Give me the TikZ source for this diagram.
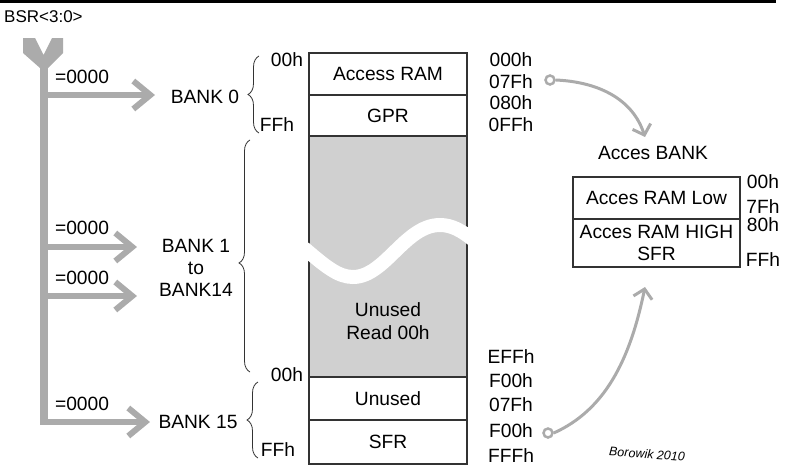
\documentclass[tikz,border=0pt]{standalone}
\usepackage{fontspec}
\setmainfont{Liberation Sans}
\usetikzlibrary{arrows.meta,decorations.pathreplacing}
\definecolor{busgray}{HTML}{ABABAB}
\definecolor{cellgray}{HTML}{D0D0D0}
\definecolor{edgegray}{HTML}{333333}
\tikzset{
  every node/.style={font=\fontsize{19.2}{22}\selectfont, inner sep=0pt},
  bus/.style={draw=busgray, line width=6pt},
  busarrow/.style={bus, -{Straight Barb[length=17pt,width=28pt]}},
  cell/.style={draw=edgegray, line width=1.2pt, minimum width=158pt, fill=white},
  acccell/.style={draw=edgegray, line width=1.2pt, minimum width=167pt, fill=white, align=center},
  ring/.style={circle, draw=busgray, line width=2.5pt, minimum size=9pt, fill=white},
  bendarrow/.style={draw=busgray, line width=3pt, -{Straight Barb[length=9pt,width=19pt]}},
  bracket/.style={draw=edgegray, line width=0.8pt, decorate},
}
\begin{document}
\begin{tikzpicture}[x=1pt,y=-1pt]
\useasboundingbox (0,0) rectangle (785,471);
\draw[line width=3pt] (0,1.5) -- (776,1.5);
\node[anchor=west, font=\fontsize{17}{20}\selectfont] (bsr) at (4,17) {BSR<3:0>};

% the BSR bus
\fill[busgray] (23,38) -- (35,38) -- (43.5,55) -- (52,38) -- (63,38) -- (63,53)
  -- (48,68) -- (40,68) -- (23,53) -- cycle;
\coordinate (bustop) at (44,62);
\coordinate (busend) at (44,425);
\draw[busgray, line width=8pt] (bustop) -- (busend);

\coordinate (tip0) at (155,95);
\coordinate (tipa) at (137,247);
\coordinate (tipb) at (137,296);
\coordinate (tip15) at (150,422);
\draw[busarrow] (bustop |- tip0) -- (tip0);
\draw[busarrow] (bustop |- tipa) -- (tipa);
\draw[busarrow] (bustop |- tipb) -- (tipb);
\draw[busarrow] (40,422) -- (tip15);
\node (eq0) at (82,77) {=0000};
\node (eqa) at (82,228) {=0000};
\node (eqb) at (82,278) {=0000};
\node (eq15) at (82,404) {=0000};

% banks
\node (bank0) at (205,97) {BANK 0};
\node[align=center] (bank1) at (196,268) {BANK 1\\to\\BANK14};
\node (bank15) at (198,422) {BANK 15};
\draw[bracket, decoration={brace, amplitude=11pt}] (259,133) -- (259,56);
\draw[bracket, decoration={brace, amplitude=11pt, aspect=0.47}] (250,372) -- (250,140);
\draw[bracket, decoration={brace, amplitude=11pt}] (258,458) -- (258,382);
\node (lo0) at (287,60) {00h};
\node (hi0) at (277,125) {FFh};
\node (lo15) at (287,375) {00h};
\node (hi15) at (278,450) {FFh};

% memory map
\node[cell, minimum height=42pt] (accram) at (388,74) {Access RAM};
\node[cell, minimum height=41pt] (gpr) at (388,115.5) {GPR};
\node[cell, fill=cellgray, minimum height=241pt] (gap) at (388,256.5) {};
\node[cell, minimum height=43pt] (unused) at (388,398.5) {Unused};
\node[cell, minimum height=44pt] (sfr) at (388,442) {SFR};
\draw[white, line width=14pt] (304,248) .. controls (325,266) and (338,277) .. (353,277)
  .. controls (385,277) and (405,225) .. (440,225)
  .. controls (452,225) and (462,231) .. (472,239);
\node[align=center, font=\fontsize{19.2}{23}\selectfont] (readzero) at (388,321) {Unused\\Read 00h};

\node (a000) at (511,60) {000h};
\node (a07f) at (511,82) {07Fh};
\node (a080) at (511,103) {080h};
\node (a0ff) at (511,125) {0FFh};
\node (aeff) at (511,357) {EFFh};
\node (af00) at (511,381) {F00h};
\node (af7f) at (511,405) {07Fh};
\node (af80) at (511,431) {F00h};
\node (afff) at (511,456) {FFFh};

% access bank
\node (accbank) at (653,153) {Acces BANK};
\node[acccell, minimum height=42pt] (acclow) at (656.5,198) {Acces RAM Low};
\node[acccell, minimum height=48pt] (acchigh) at (656.5,243) {Acces RAM HIGH\\SFR};
\node (b00) at (763,182) {00h};
\node (b7f) at (763,207) {7Fh};
\node (b80) at (763,225) {80h};
\node (bff) at (763,260) {FFh};

\node[ring] (ringlow) at (550,80) {};
\node[ring] (ringhigh) at (548,433) {};
\coordinate (intolow) at (645,137);
\coordinate (intohigh) at (645,287);
\draw[bendarrow] (ringlow.east) .. controls (600,82) and (633,100) .. (intolow);
\draw[bendarrow] (ringhigh.east) .. controls (605,410) and (630,360) .. (intohigh);

\node[font=\fontsize{12.5}{14}\selectfont\itshape, rotate=-4] (sig) at (647,454) {Borowik 2010};
\end{tikzpicture}
\end{document}
